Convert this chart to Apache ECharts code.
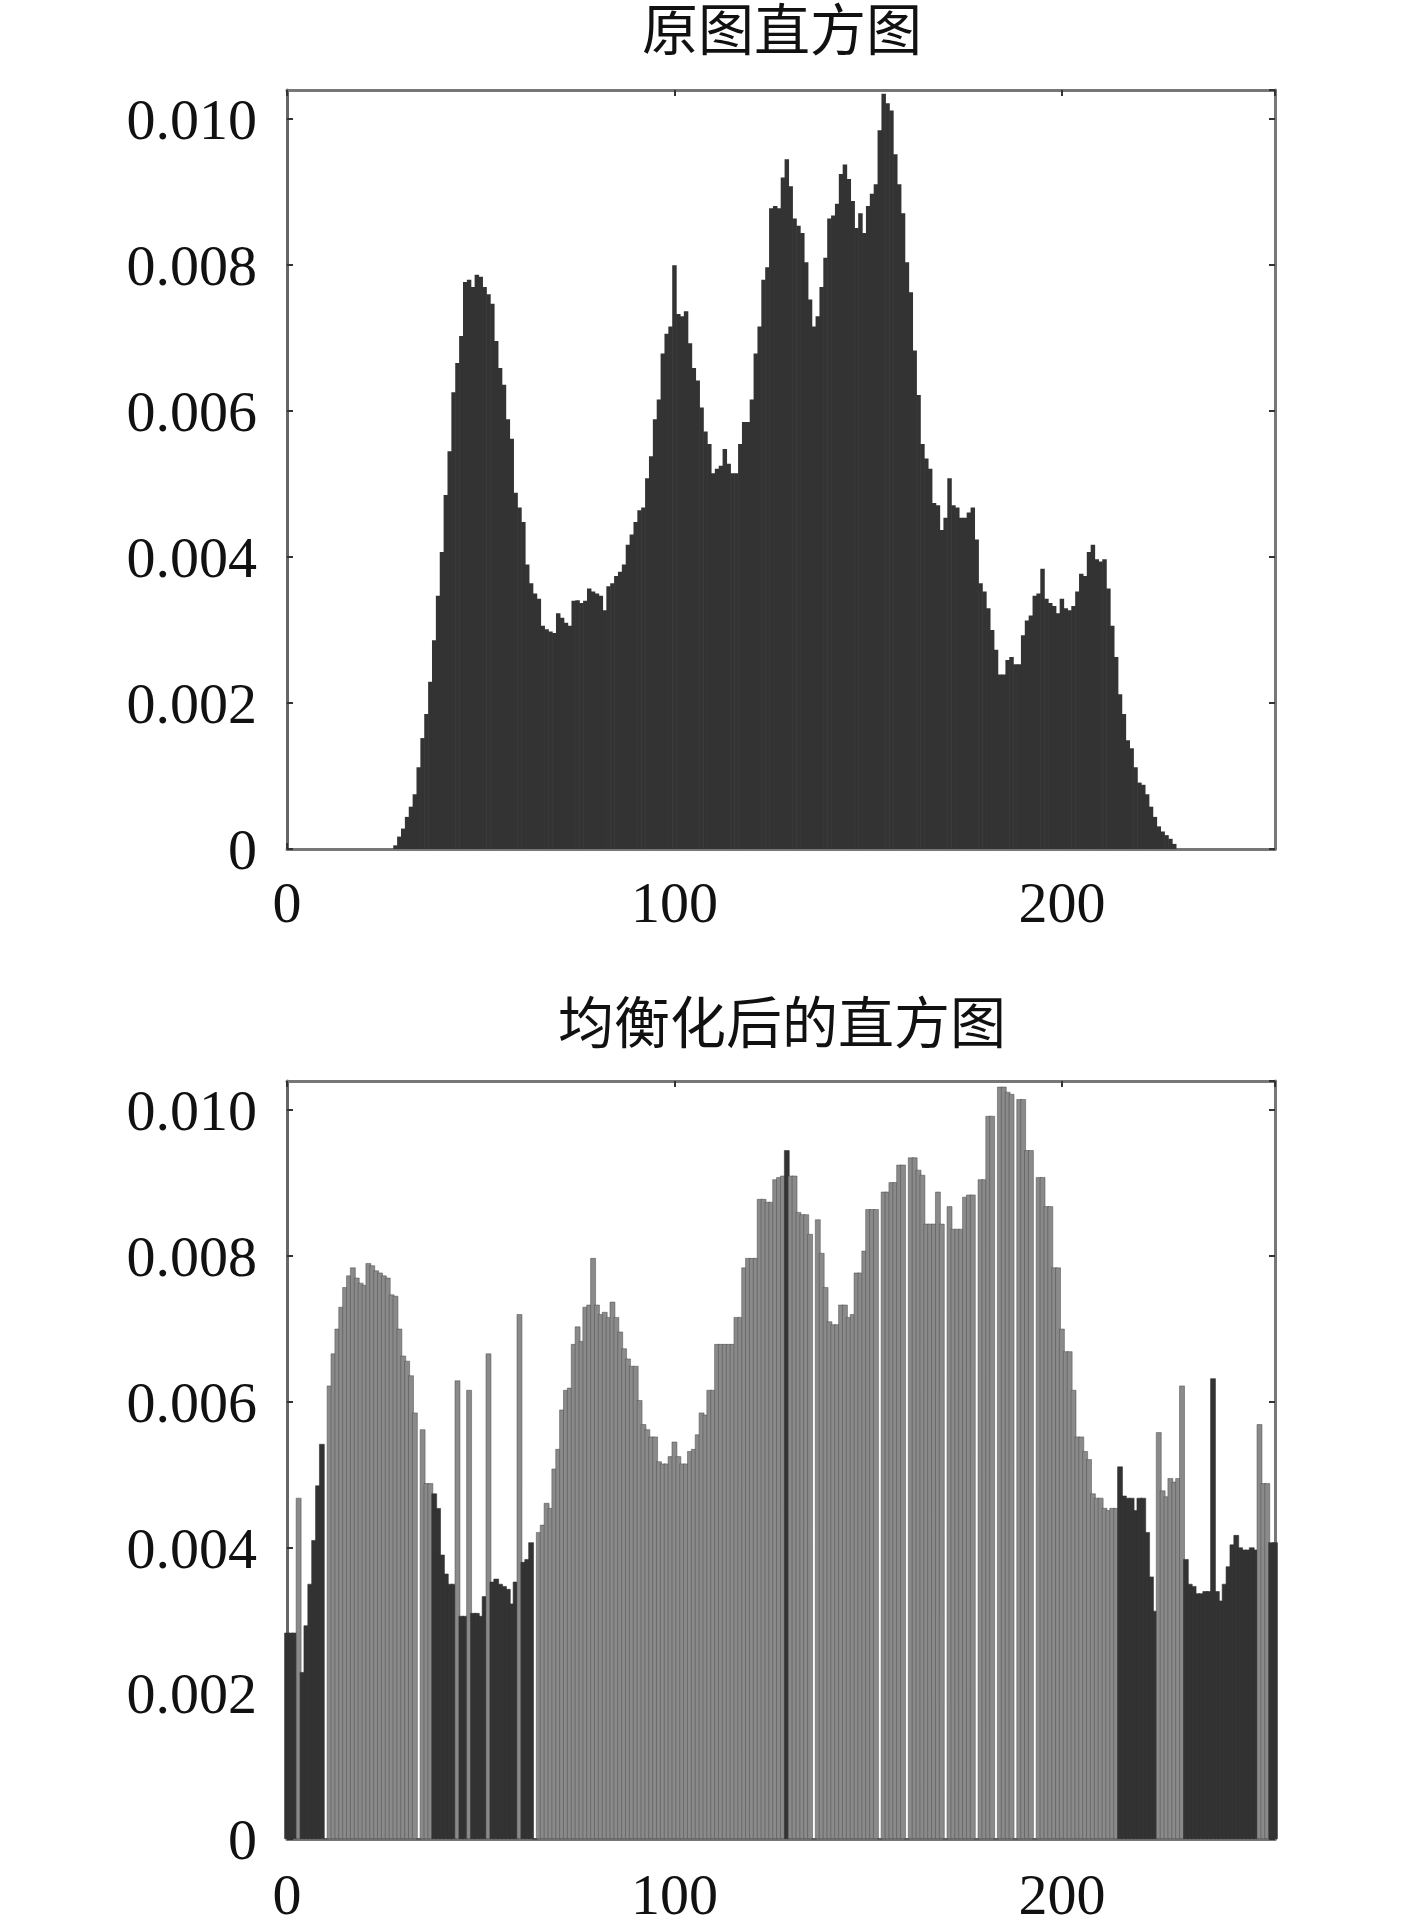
<!DOCTYPE html>
<html>
<head>
<meta charset="utf-8">
<script src="https://cdn.jsdelivr.net/npm/echarts@6/dist/echarts.min.js"></script>
<style>
html,body{margin:0;padding:0;background:#fff;}
#c{width:1417px;height:1932px;}
</style>
</head>
<body>
<div id="c"></div>
<script>
// ---------------- DATA ----------------
const chartTitles = ['原图直方图', '均衡化后的直方图'];
const xTickValues = [0, 100, 200];
const yTickValues = [0, 0.002, 0.004, 0.006, 0.008, 0.010];

// Original histogram, gray levels 0..255
const originalHist = [
  0,0,0,0,0,0,0,0,0,0, 0,0,0,0,0,0,0,0,0,0, 0,0,0,0,0,0,0,0,
  0.00005,0.00017,0.00028,0.00044,0.00058,0.00075,0.00112,0.00152,0.00185,0.00229,
  0.00286,0.00347,0.00407,0.00485,0.00545,0.00626,0.00666,0.00703,0.00777,0.00780,
  0.00770,0.00787,0.00784,0.00770,0.00760,0.00747,0.00696,0.00659,0.00636,0.00589,
  0.00562,0.00488,0.00468,0.00448,0.00390,0.00364,0.00350,0.00343,0.00306,0.00301,
  0.00298,0.00296,0.00323,0.00317,0.00310,0.00306,0.00340,0.00341,0.00337,0.00340,
  0.00357,0.00353,0.00350,0.00347,0.00327,0.00360,0.00364,0.00374,0.00380,0.00390,
  0.00417,0.00431,0.00448,0.00464,0.00468,0.00508,0.00538,0.00589,0.00616,0.00679,
  0.00706,0.00716,0.00800,0.00733,0.00730,0.00737,0.00693,0.00659,0.00642,0.00605,
  0.00572,0.00555,0.00515,0.00521,0.00525,0.00548,0.00528,0.00515,0.00515,0.00555,
  0.00585,0.00585,0.00616,0.00679,0.00716,0.00780,0.00797,0.00878,0.00881,0.00878,
  0.00920,0.00945,0.00908,0.00864,0.00854,0.00844,0.00804,0.00753,0.00716,0.00730,
  0.00770,0.00810,0.00864,0.00868,0.00884,0.00925,0.00938,0.00918,0.00888,0.00851,
  0.00871,0.00844,0.00881,0.00898,0.00911,0.00985,0.01035,0.01022,0.01012,0.00952,
  0.00911,0.00871,0.00804,0.00763,0.00683,0.00622,0.00555,0.00535,0.00521,0.00474,
  0.00471,0.00437,0.00454,0.00508,0.00471,0.00468,0.00454,0.00454,0.00461,0.00468,
  0.00424,0.00364,0.00353,0.00330,0.00300,0.00273,0.00239,0.00239,0.00259,0.00263,
  0.00253,0.00253,0.00293,0.00313,0.00320,0.00347,0.00350,0.00384,0.00343,0.00337,
  0.00333,0.00323,0.00343,0.00330,0.00327,0.00333,0.00353,0.00377,0.00374,0.00407,
  0.00417,0.00397,0.00394,0.00397,0.00357,0.00306,0.00263,0.00212,0.00185,0.00149,
  0.00138,0.00112,0.00091,0.00088,0.00075,0.00058,0.00044,0.00031,0.00024,0.00019,
  0.00014,0.00007,
  0,0,0,0,0,0,0,0,0,0, 0,0,0,0,0,0,0,0,0,0, 0,0,0,0,0,0
];

// Equalized histogram, gray levels 0..255
const equalizedHist = [
  0.00283,0.00283,0.00283,0.00468,0.00229,0.00293,0.00350,0.00410,0.00485,0.00542,
  0,0.00622,0.00666,0.00700,0.00730,0.00757,0.00773,0.00784,0.00770,0.00763,
  0.00760,0.00790,0.00787,0.00780,0.00777,0.00773,0.00770,0.00747,0.00745,0.00700,
  0.00663,0.00656,0.00636,0.00585,0,0.00562,0.00488,0.00488,0.00474,0.00454,
  0.00390,0.00364,0.00350,0.00350,0.00629,0.00306,0.00306,0.00616,0.00310,0.00310,
  0.00306,0.00333,0.00666,0.00353,0.00357,0.00350,0.00347,0.00343,0.00323,0.00353,
  0.00720,0.00380,0.00384,0.00407,0,0.00421,0.00431,0.00461,0.00454,0.00508,
  0.00535,0.00589,0.00616,0.00619,0.00679,0.00703,0.00683,0.00730,0.00733,0.00797,
  0.00733,0.00720,0.00723,0.00716,0.00737,0.00716,0.00696,0.00673,0.00659,0.00649,
  0.00649,0.00602,0.00569,0.00562,0.00552,0.00552,0.00518,0.00515,0.00515,0.00525,
  0.00545,0.00525,0.00515,0.00515,0.00532,0.00535,0.00555,0.00585,0.00582,0.00616,
  0.00616,0.00679,0.00679,0.00679,0.00679,0.00679,0.00716,0.00716,0.00784,0.00797,
  0.00797,0.00797,0.00878,0.00878,0.00874,0.00874,0.00905,0.00908,0.00910,0.00945,
  0.00910,0.00910,0.00860,0.00857,0.00857,0.00830,0,0.00850,0.00804,0.00757,
  0.00710,0.00706,0.00706,0.00733,0.00733,0.00716,0.00720,0.00777,0.00777,0.00807,
  0.00864,0.00864,0.00864,0,0.00888,0.00888,0.00901,0.00901,0.00925,0.00925,
  0,0.00935,0.00935,0.00918,0.00911,0.00844,0.00844,0.00844,0.00888,0.00844,
  0,0.00868,0.00837,0.00837,0.00837,0.00881,0.00884,0.00884,0,0.00905,
  0.00905,0.00992,0.00992,0,0.01032,0.01032,0.01025,0.01022,0,0.01015,
  0.01015,0.00945,0.00945,0,0.00908,0.00908,0.00868,0.00868,0.00784,0.00784,
  0.00700,0.00669,0.00669,0.00616,0.00552,0.00552,0.00532,0.00521,0.00474,0.00468,
  0.00468,0.00454,0.00451,0.00454,0.00454,0.00511,0.00471,0.00468,0.00468,0.00451,
  0.00468,0.00468,0.00421,0.00360,0.00313,0.00558,0.00478,0.00470,0.00495,0.00490,
  0.00495,0.00622,0.00384,0.00350,0.00347,0.00337,0.00337,0.00340,0.00340,0.00632,
  0.00340,0.00327,0.00350,0.00374,0.00404,0.00417,0.00400,0.00397,0.00397,0.00400,
  0.00397,0.00569,0.00488,0.00488,0.00407,0.00407
];

// ---------------- STYLE ----------------
const DARK = '#333333';
const LIGHT = '#8a8a8a';
const FRAME = '#777777';
// bins of the equalized histogram that render as the light (sparse) tone
const lightBinRanges = [[3,3],[10,37],[44,44],[47,47],[52,52],[60,60],[65,128],[130,214],[225,231],[251,253]];
const isLight = i => lightBinRanges.some(r => i >= r[0] && i <= r[1]);

const grids = [
  {left: 287, top: 90, width: 988, height: 759},
  {left: 287, top: 1081, width: 988, height: 758}
];
const binPx = 988 / 255;
const labelFont = {fontFamily: 'Liberation Serif', fontSize: 58, color: '#111'};

function xAxes(gi, labelMargin) {
  return [
    {gridIndex: gi, type: 'value', position: 'bottom', min: 0, max: 255, interval: 100,
     axisLine: {show: true, lineStyle: {color: FRAME, width: 3}},
     axisTick: {show: true, inside: true, length: 6, lineStyle: {color: '#333', width: 2}},
     axisLabel: Object.assign({show: true, margin: labelMargin, showMaxLabel: false,
       formatter: v => (xTickValues.indexOf(v) >= 0 ? String(v) : '')}, labelFont),
     splitLine: {show: false}},
    {gridIndex: gi, type: 'value', position: 'top', min: 0, max: 255, interval: 100,
     axisLine: {show: true, onZero: false, lineStyle: {color: FRAME, width: 3}},
     axisTick: {show: true, inside: true, length: 6, lineStyle: {color: '#333', width: 2}},
     axisLabel: {show: false}, splitLine: {show: false}}
  ];
}
function yAxes(gi) {
  return [
    {gridIndex: gi, type: 'value', position: 'left', min: 0, max: 0.0104, interval: 0.002,
     axisLine: {show: true, lineStyle: {color: '#666', width: 3}},
     axisTick: {show: true, inside: true, length: 6, lineStyle: {color: '#333', width: 2}},
     axisLabel: Object.assign({show: true, margin: 30, showMaxLabel: false,
       formatter: v => '{t|' + (v === 0 ? '0' : v.toFixed(3)) + '}',
       rich: {t: Object.assign({padding: [10, 0, 0, 0]}, labelFont)}}, labelFont),
     splitLine: {show: false}},
    {gridIndex: gi, type: 'value', position: 'right', min: 0, max: 0.0104, interval: 0.002,
     axisLine: {show: true, onZero: false, lineStyle: {color: FRAME, width: 3}},
     axisTick: {show: true, inside: true, length: 6, lineStyle: {color: '#333', width: 2}},
     axisLabel: {show: false}, splitLine: {show: false}}
  ];
}

const topData = originalHist.map((y, i) => [i, y]);
const bottomData = equalizedHist.map((y, i) => ({
  value: [i, y],
  itemStyle: isLight(i)
    ? {color: LIGHT, borderColor: '#4a4a4a', borderWidth: 0.5}
    : {color: DARK, borderColor: DARK, borderWidth: 0.6}
}));

const titleStyle = {fontFamily: 'Noto Sans CJK SC', fontSize: 56, fontWeight: 'normal', color: '#111'};
const option = {
  backgroundColor: '#ffffff',
  animation: false,
  title: [
    {text: chartTitles[0], left: 782, top: 1, padding: 0, textAlign: 'center', textStyle: titleStyle},
    {text: chartTitles[1], left: 782, top: 994, padding: 0, textAlign: 'center', textStyle: titleStyle}
  ],
  grid: grids,
  xAxis: xAxes(0, 29).concat(xAxes(1, 31)),
  yAxis: yAxes(0).concat(yAxes(1)),
  series: [
    {type: 'bar', xAxisIndex: 0, yAxisIndex: 0, data: topData, barWidth: binPx + 0.6,
     itemStyle: {color: DARK}, clip: true, z: 1},
    {type: 'bar', xAxisIndex: 2, yAxisIndex: 2, data: bottomData, barWidth: binPx + 1.6,
     clip: true, z: 1}
  ]
};

const chart = echarts.init(document.getElementById('c'), null, {renderer: 'canvas'});
chart.setOption(option);
</script>
</body>
</html>
